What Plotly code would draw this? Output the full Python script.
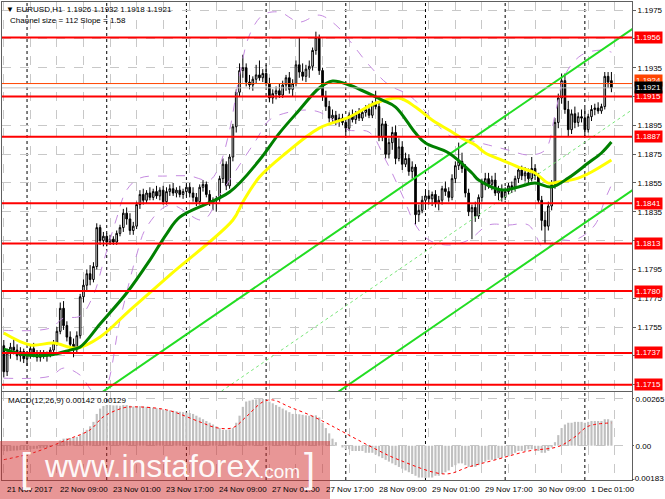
import plotly.graph_objects as go

W, H = 665, 499

# ---------------- data ----------------
x_tick_idx = [0, 16, 32, 48, 64, 80, 96, 112, 128, 144, 160, 176]
x_tick_text = ["21 Nov 2017", "22 Nov 09:00", "23 Nov 01:00", "23 Nov 17:00", "24 Nov 09:00",
               "27 Nov 01:00", "27 Nov 17:00", "28 Nov 09:00", "29 Nov 01:00", "29 Nov 17:00",
               "30 Nov 09:00", "1 Dec 01:00"]
day_start_idx = [7, 31, 55, 79, 103, 127, 151, 175]

open_ = [1.1742,1.1724,1.1737,1.1741,1.1739,1.1735,1.1738,1.1733,1.1736,1.1740,
         1.1736,1.1734,1.1737,1.1735,1.1736,1.1739,1.1744,1.1752,1.1768,1.1756,
         1.1748,1.1743,1.1740,1.1749,1.1776,1.1784,1.1792,1.1788,1.1797,1.1824,
         1.1815,1.1818,1.1814,1.1816,1.1814,1.1820,1.1824,1.1834,1.1830,1.1822,
         1.1825,1.1840,1.1847,1.1843,1.1848,1.1845,1.1849,1.1846,1.1850,1.1842,
         1.1849,1.1851,1.1848,1.1850,1.1847,1.1849,1.1852,1.1848,1.1845,1.1842,
         1.1852,1.1854,1.1847,1.1841,1.1843,1.1844,1.1858,1.1868,1.1853,1.1873,
         1.1894,1.1918,1.1933,1.1935,1.1925,1.1923,1.1927,1.1930,1.1928,1.1931,
         1.1924,1.1914,1.1917,1.1919,1.1916,1.1923,1.1928,1.1920,1.1924,1.1937,
         1.1932,1.1929,1.1934,1.1936,1.1947,1.1956,1.1933,1.1915,1.1908,1.1900,
         1.1902,1.1898,1.1900,1.1897,1.1893,1.1902,1.1899,1.1903,1.1900,1.1904,
         1.1906,1.1902,1.1910,1.1908,1.1887,1.1896,1.1875,1.1883,1.1890,1.1872,
         1.1880,1.1868,1.1872,1.1863,1.1866,1.1833,1.1836,1.1843,1.1846,1.1844,
         1.1847,1.1841,1.1843,1.1851,1.1849,1.1845,1.1858,1.1867,1.1870,1.1865,
         1.1848,1.1835,1.1838,1.1832,1.1845,1.1855,1.1858,1.1854,1.1857,1.1848,
         1.1850,1.1845,1.1849,1.1853,1.1851,1.1858,1.1864,1.1860,1.1862,1.1858,
         1.1865,1.1860,1.1843,1.1829,1.1825,1.1839,1.1854,1.1897,1.1914,1.1926,
         1.1906,1.1892,1.1903,1.1897,1.1901,1.1900,1.1892,1.1901,1.1906,1.1907,
         1.1905,1.1908,1.1929,1.1926]
high_ = [1.1746,1.1740,1.1744,1.1747,1.1743,1.1741,1.1740,1.1738,1.1742,1.1744,
         1.1739,1.1739,1.1739,1.1738,1.1741,1.1746,1.1755,1.1772,1.1773,1.1759,
         1.1752,1.1747,1.1752,1.1778,1.1788,1.1795,1.1798,1.1800,1.1827,1.1826,
         1.1821,1.1820,1.1819,1.1818,1.1822,1.1826,1.1837,1.1838,1.1834,1.1828,
         1.1842,1.1850,1.1851,1.1850,1.1852,1.1851,1.1853,1.1852,1.1853,1.1852,
         1.1854,1.1855,1.1852,1.1853,1.1851,1.1854,1.1855,1.1852,1.1848,1.1854,
         1.1857,1.1856,1.1850,1.1845,1.1846,1.1860,1.1872,1.1870,1.1875,1.1896,
         1.1920,1.1938,1.1944,1.1938,1.1930,1.1929,1.1937,1.1940,1.1934,1.1937,
         1.1928,1.1920,1.1922,1.1924,1.1926,1.1930,1.1932,1.1927,1.1940,1.1956,
         1.1938,1.1937,1.1940,1.1949,1.1960,1.1958,1.1935,1.1919,1.1912,1.1906,
         1.1905,1.1903,1.1903,1.1900,1.1904,1.1906,1.1905,1.1907,1.1906,1.1909,
         1.1910,1.1912,1.1919,1.1911,1.1900,1.1898,1.1886,1.1894,1.1895,1.1886,
         1.1884,1.1876,1.1875,1.1870,1.1868,1.1840,1.1846,1.1849,1.1850,1.1849,
         1.1850,1.1846,1.1853,1.1856,1.1852,1.1861,1.1870,1.1883,1.1876,1.1868,
         1.1851,1.1840,1.1842,1.1847,1.1858,1.1862,1.1862,1.1860,1.1862,1.1853,
         1.1854,1.1852,1.1855,1.1856,1.1860,1.1866,1.1867,1.1866,1.1865,1.1873,
         1.1868,1.1862,1.1846,1.1835,1.1842,1.1857,1.1900,1.1917,1.1931,1.1931,
         1.1912,1.1906,1.1908,1.1904,1.1906,1.1907,1.1903,1.1909,1.1910,1.1911,
         1.1910,1.1932,1.1932,1.1932]
low_ = [1.1720,1.1721,1.1733,1.1736,1.1732,1.1731,1.1730,1.1728,1.1733,1.1734,
        1.1731,1.1731,1.1733,1.1731,1.1734,1.1737,1.1742,1.1750,1.1753,1.1745,
        1.1740,1.1734,1.1737,1.1747,1.1772,1.1780,1.1784,1.1786,1.1795,1.1812,
        1.1811,1.1811,1.1812,1.1812,1.1812,1.1818,1.1821,1.1826,1.1819,1.1819,
        1.1823,1.1837,1.1840,1.1841,1.1843,1.1843,1.1844,1.1843,1.1840,1.1840,
        1.1846,1.1846,1.1845,1.1845,1.1844,1.1846,1.1845,1.1842,1.1839,1.1840,
        1.1849,1.1845,1.1839,1.1836,1.1835,1.1842,1.1855,1.1850,1.1851,1.1870,
        1.1890,1.1915,1.1928,1.1922,1.1920,1.1919,1.1924,1.1926,1.1925,1.1922,
        1.1911,1.1910,1.1913,1.1914,1.1914,1.1919,1.1917,1.1915,1.1922,1.1928,
        1.1926,1.1925,1.1928,1.1933,1.1944,1.1930,1.1912,1.1905,1.1897,1.1896,
        1.1895,1.1894,1.1895,1.1888,1.1891,1.1897,1.1896,1.1898,1.1898,1.1901,
        1.1900,1.1900,1.1906,1.1884,1.1884,1.1872,1.1872,1.1878,1.1868,1.1870,
        1.1864,1.1866,1.1860,1.1858,1.1826,1.1828,1.1834,1.1838,1.1840,1.1839,
        1.1838,1.1836,1.1840,1.1846,1.1842,1.1843,1.1855,1.1864,1.1862,1.1845,
        1.1832,1.1816,1.1828,1.1830,1.1842,1.1850,1.1851,1.1850,1.1846,1.1843,
        1.1842,1.1843,1.1847,1.1848,1.1849,1.1855,1.1857,1.1856,1.1855,1.1856,
        1.1857,1.1841,1.1822,1.1813,1.1822,1.1836,1.1851,1.1893,1.1910,1.1903,
        1.1887,1.1889,1.1893,1.1894,1.1897,1.1887,1.1890,1.1898,1.1902,1.1903,
        1.1903,1.1906,1.1921,1.1918]
close_ = [1.1724,1.1737,1.1741,1.1739,1.1735,1.1738,1.1733,1.1736,1.1740,1.1736,
          1.1734,1.1737,1.1735,1.1736,1.1739,1.1744,1.1752,1.1768,1.1756,1.1748,
          1.1743,1.1740,1.1749,1.1776,1.1784,1.1792,1.1788,1.1797,1.1824,1.1815,
          1.1818,1.1814,1.1816,1.1814,1.1820,1.1824,1.1834,1.1830,1.1822,1.1825,
          1.1840,1.1847,1.1843,1.1848,1.1845,1.1849,1.1846,1.1850,1.1842,1.1849,
          1.1851,1.1848,1.1850,1.1847,1.1849,1.1852,1.1848,1.1845,1.1842,1.1852,
          1.1854,1.1847,1.1841,1.1843,1.1844,1.1858,1.1868,1.1853,1.1873,1.1894,
          1.1918,1.1933,1.1935,1.1925,1.1923,1.1927,1.1930,1.1928,1.1931,1.1924,
          1.1914,1.1917,1.1919,1.1916,1.1923,1.1928,1.1920,1.1924,1.1937,1.1932,
          1.1929,1.1934,1.1936,1.1947,1.1956,1.1933,1.1915,1.1908,1.1900,1.1902,
          1.1898,1.1900,1.1897,1.1893,1.1902,1.1899,1.1903,1.1900,1.1904,1.1906,
          1.1902,1.1910,1.1908,1.1887,1.1896,1.1875,1.1883,1.1890,1.1872,1.1880,
          1.1868,1.1872,1.1863,1.1866,1.1833,1.1836,1.1843,1.1846,1.1844,1.1847,
          1.1841,1.1843,1.1851,1.1849,1.1845,1.1858,1.1867,1.1870,1.1865,1.1848,
          1.1835,1.1838,1.1832,1.1845,1.1855,1.1858,1.1854,1.1857,1.1848,1.1850,
          1.1845,1.1849,1.1853,1.1851,1.1858,1.1864,1.1860,1.1862,1.1858,1.1865,
          1.1860,1.1843,1.1829,1.1825,1.1839,1.1854,1.1897,1.1914,1.1926,1.1906,
          1.1892,1.1903,1.1897,1.1901,1.1900,1.1892,1.1901,1.1906,1.1907,1.1905,
          1.1908,1.1929,1.1925,1.1921]

# moving averages (bar index, price)
ma_green_idx = [0, 7, 14, 20, 23, 29, 37, 44, 49, 53, 68, 77, 83, 89, 95, 99, 104, 114, 118,
                124, 127, 134, 141, 143, 150, 155, 160, 165, 170, 176, 180, 183]
ma_green_val = [1.17397, 1.17356, 1.17356, 1.17390, 1.17411, 1.17571, 1.17786, 1.18015, 1.18195,
                1.18313, 1.18487, 1.18709, 1.18896, 1.19056, 1.19209, 1.19257, 1.19230, 1.19125,
                1.19077, 1.18896, 1.18827, 1.18758, 1.18619, 1.18570, 1.18501, 1.18522, 1.18549,
                1.18522, 1.18584, 1.18688, 1.18758, 1.18834]
ma_yellow_idx = [0, 8, 15, 22, 29, 38, 50, 69, 72, 77, 85, 95, 104, 112, 119, 124, 129, 134, 139,
                 142, 145, 150, 155, 160, 164, 167, 173, 177, 183]
ma_yellow_val = [1.17508, 1.17425, 1.17439, 1.17404, 1.17481, 1.17668, 1.17911, 1.18293, 1.18418,
                 1.18591, 1.18758, 1.18931, 1.19007, 1.19105, 1.19139, 1.19077, 1.18987, 1.18917,
                 1.18848, 1.18813, 1.18758, 1.18709, 1.18660, 1.18619, 1.18549, 1.18556, 1.18584,
                 1.18626, 1.18709]

band_up_idx = [0, 14, 18, 23, 27, 30, 34, 37, 41, 49, 56, 62, 65, 68, 71, 74, 78, 83, 89, 95,
               100, 104, 110, 116, 122, 128, 134, 140, 146, 152, 158, 163, 166, 169, 174, 180, 183]
band_up_val = [1.17527, 1.17543, 1.17612, 1.17626, 1.17772, 1.18001, 1.18306, 1.18501, 1.18584,
               1.18598, 1.18598, 1.18570, 1.18674, 1.18917, 1.19299, 1.19577, 1.19715, 1.19736,
               1.19667, 1.19715, 1.19646, 1.19542, 1.19368, 1.19230, 1.19160, 1.19021, 1.18882,
               1.18848, 1.18813, 1.18778, 1.18744, 1.18778, 1.19021, 1.19299, 1.19438, 1.19472,
               1.19458]
band_dn_idx = [0, 14, 18, 23, 27, 30, 35, 40, 43, 50, 60, 65, 70, 76, 80, 86, 91, 95,
               100, 104, 110, 115, 120, 124, 128, 134, 140, 146, 152, 158, 163, 166, 172, 178,
               181, 183]
band_dn_val = [1.17195, 1.17209, 1.17265, 1.17216, 1.17099, 1.17099, 1.17598, 1.18050, 1.18244,
               1.18397, 1.18293, 1.18466, 1.18640, 1.18848, 1.18987, 1.19042, 1.19056, 1.19042,
               1.18973, 1.18917, 1.18903, 1.18709, 1.18466, 1.18258, 1.18154, 1.18119, 1.18154,
               1.18258, 1.18258, 1.18258, 1.18084, 1.18154, 1.18154, 1.18258, 1.18431, 1.18535]

# regression channel (Channel size = 112, Slope = 1.58)
chan_idx = [0, 190]
chan_upper = [1.1663, 1.1963]
chan_mid = [1.1607, 1.1907]
chan_lower = [1.1551, 1.1851]

levels = [1.1956, 1.1915, 1.1887, 1.1841, 1.1813, 1.1780, 1.1737, 1.1715]
ask_line = 1.1924
bid_line = 1.1921
price_ticks = [1.1975, 1.1955, 1.1935, 1.1915, 1.1895, 1.1875, 1.1855, 1.1835, 1.1815,
               1.1795, 1.1775, 1.1755, 1.1735, 1.1715]
price_tick_text = ["1.1975", "", "1.1935", "", "1.1895", "1.1875", "1.1855", "1.1835", "",
                   "1.1795", "1.1775", "1.1755", "", ""]

macd_hist = [-0.00030,-0.00032,-0.00030,-0.00028,-0.00027,-0.00025,-0.00024,-0.00022,-0.00020,-0.00018,
             -0.00017,-0.00015,-0.00012,-0.00010,-0.00006,0.00000,0.00010,0.00030,0.00040,0.00042,
             0.00044,0.00046,0.00050,0.00060,0.00075,0.00090,0.00110,0.00135,0.00180,0.00210,
             0.00225,0.00230,0.00230,0.00228,0.00228,0.00226,0.00230,0.00230,0.00226,0.00222,
             0.00222,0.00224,0.00222,0.00220,0.00218,0.00215,0.00212,0.00210,0.00205,0.00202,
             0.00200,0.00198,0.00195,0.00192,0.00190,0.00188,0.00185,0.00180,0.00170,0.00160,
             0.00150,0.00140,0.00130,0.00120,0.00110,0.00100,0.00090,0.00090,0.00092,0.00100,
             0.00130,0.00170,0.00220,0.00250,0.00255,0.00260,0.00262,0.00265,0.00265,0.00260,
             0.00250,0.00240,0.00230,0.00220,0.00210,0.00200,0.00190,0.00180,0.00180,0.00178,
             0.00175,0.00172,0.00170,0.00170,0.00172,0.00160,0.00130,0.00100,0.00070,0.00040,
             0.00020,0.00000,-0.00010,-0.00020,-0.00020,-0.00030,-0.00030,-0.00030,-0.00030,-0.00040,
             -0.00040,-0.00040,-0.00050,-0.00060,-0.00070,-0.00080,-0.00090,-0.00100,-0.00110,-0.00120,
             -0.00130,-0.00140,-0.00150,-0.00160,-0.00170,-0.00180,-0.00180,-0.00183,-0.00180,-0.00180,
             -0.00170,-0.00170,-0.00160,-0.00150,-0.00140,-0.00120,-0.00110,-0.00100,-0.00100,-0.00110,
             -0.00120,-0.00120,-0.00120,-0.00110,-0.00100,-0.00090,-0.00080,-0.00080,-0.00080,-0.00070,
             -0.00070,-0.00060,-0.00060,-0.00050,-0.00040,-0.00030,-0.00030,-0.00030,-0.00020,-0.00020,
             -0.00020,-0.00030,-0.00040,-0.00040,-0.00030,-0.00010,0.00020,0.00060,0.00100,0.00120,
             0.00130,0.00130,0.00135,0.00135,0.00135,0.00130,0.00135,0.00140,0.00140,0.00140,
             0.00140,0.00150,0.00150,0.00142]
macd_sig_idx = [0, 9, 19, 26, 30, 36, 39, 49, 59, 64, 69, 73, 78, 81, 86, 92, 97, 101, 110, 119,
                133, 140, 148, 158, 167, 172, 176, 183]
macd_sig_val = [-0.00079, -0.00039, 0.00034, 0.00090, 0.00164, 0.00214, 0.00220, 0.00203, 0.00135,
                0.00102, 0.00102, 0.00164, 0.00248, 0.00259, 0.00220, 0.00175, 0.00130, 0.00090,
                0.00000, -0.00080, -0.00160, -0.00120, -0.00080, -0.00030, -0.00005, 0.00050,
                0.00110, 0.00129]
macd_ticks = [0.00265, 0.0]
macd_tick_text = ["0.00265", "0.00"]
macd_min_label = -0.00183

# ---------------- figure ----------------
def py(px):
    return 1 - px / H

X0, X1 = 2 / W, 632 / W
main_dom = [py(391), py(2)]
macd_dom = [py(480), py(392)]
xr = [-0.54, 189.2]
FONT = "Liberation Sans, Arial, sans-serif"

fig = go.Figure()

fig.add_trace(go.Scatter(x=band_up_idx, y=band_up_val, mode="lines", line=dict(color="#c58be0", width=1, dash="dash", shape="spline"), xaxis="x", yaxis="y", hoverinfo="skip"))
fig.add_trace(go.Scatter(x=band_dn_idx, y=band_dn_val, mode="lines", line=dict(color="#c58be0", width=1, dash="dash", shape="spline"), xaxis="x", yaxis="y", hoverinfo="skip"))
fig.add_trace(go.Scatter(x=chan_idx, y=chan_mid, mode="lines", line=dict(color="#7ae67a", width=1, dash="dot"), xaxis="x", yaxis="y", hoverinfo="skip"))
fig.add_trace(go.Scatter(x=chan_idx, y=chan_upper, mode="lines", line=dict(color="#22dd22", width=2), xaxis="x", yaxis="y", hoverinfo="skip"))
fig.add_trace(go.Scatter(x=chan_idx, y=chan_lower, mode="lines", line=dict(color="#22dd22", width=2), xaxis="x", yaxis="y", hoverinfo="skip"))
fig.add_trace(go.Scatter(x=ma_yellow_idx, y=ma_yellow_val, mode="lines", line=dict(color="#ffff00", width=3, shape="spline"), xaxis="x", yaxis="y", hoverinfo="skip"))
fig.add_trace(go.Scatter(x=ma_green_idx, y=ma_green_val, mode="lines", line=dict(color="#008000", width=3, shape="spline"), xaxis="x", yaxis="y", hoverinfo="skip"))
fig.add_trace(go.Candlestick(x=list(range(len(close_))), open=open_, high=high_, low=low_, close=close_,
                             increasing=dict(line=dict(color="black", width=1), fillcolor="white"),
                             decreasing=dict(line=dict(color="black", width=1), fillcolor="black"),
                             whiskerwidth=0, xaxis="x", yaxis="y", hoverinfo="skip"))

fig.add_trace(go.Bar(x=list(range(len(macd_hist))), y=macd_hist, marker=dict(color="#c0c0c0", line=dict(width=0)),
                     xaxis="x2", yaxis="y2", hoverinfo="skip"))
fig.add_trace(go.Scatter(x=macd_sig_idx, y=macd_sig_val, mode="lines", line=dict(color="#ff0000", width=1, dash="dot", shape="spline"),
                         xaxis="x2", yaxis="y2", hoverinfo="skip"))

shapes = []
for d in day_start_idx:
    shapes.append(dict(type="line", xref="x", yref="paper", x0=d, x1=d, y0=macd_dom[0], y1=main_dom[1],
                       line=dict(color="black", width=1, dash="dot"), layer="below"))
for lv in levels:
    shapes.append(dict(type="line", xref="paper", yref="y", x0=X0, x1=X1, y0=lv, y1=lv,
                       line=dict(color="#ff0000", width=2), layer="above"))
shapes.append(dict(type="line", xref="paper", yref="y", x0=X0, x1=X1, y0=ask_line, y1=ask_line,
                   line=dict(color="#ff4500", width=1), layer="above"))
shapes.append(dict(type="line", xref="paper", yref="y", x0=X0, x1=X1, y0=bid_line, y1=bid_line,
                   line=dict(color="#c0c0c0", width=1), layer="above"))
# watermark box
shapes.append(dict(type="rect", xref="paper", yref="paper", x0=0, x1=330 / W, y0=0, y1=py(441),
                   fillcolor="rgba(209,45,45,0.5)", line=dict(width=0), layer="above"))

ann = []
for lv in levels:
    ann.append(dict(xref="paper", yref="y", x=634 / W, y=lv, xanchor="left", yanchor="middle",
                    text=f"{lv:.4f}", showarrow=False, bgcolor="#ff0000", borderpad=1,
                    font=dict(color="white", size=8, family=FONT)))
ann.append(dict(xref="paper", yref="y", x=634 / W, y=ask_line, xanchor="left", yanchor="bottom", yshift=-3,
                text=f"{ask_line:.4f}", showarrow=False, bgcolor="#ff4500", borderpad=1,
                font=dict(color="white", size=8, family=FONT)))
ann.append(dict(xref="paper", yref="y", x=634 / W, y=bid_line, xanchor="left", yanchor="middle",
                text=f"{bid_line:.4f}", showarrow=False, bgcolor="black", borderpad=1,
                font=dict(color="white", size=8, family=FONT)))
ann.append(dict(xref="paper", yref="y2", x=630 / W, y=macd_min_label, xanchor="left", yanchor="middle",
                text=f"{macd_min_label:.5f}", showarrow=False,
                font=dict(color="black", size=8, family=FONT)))
for ti, tt in zip(x_tick_idx, x_tick_text):
    ann.append(dict(xref="x2", yref="paper", x=ti, y=py(489), xanchor="left", yanchor="middle", xshift=1,
                    text=tt, showarrow=False, font=dict(color="black", size=8, family=FONT)))
ann.append(dict(xref="paper", yref="paper", x=4 / W, y=py(9), xanchor="left", yanchor="middle",
                text="\u25bc EURUSD,H1  1.1926 1.1932 1.1918 1.1921", showarrow=False,
                font=dict(color="black", size=8, family=FONT)))
ann.append(dict(xref="paper", yref="paper", x=8 / W, y=py(20), xanchor="left", yanchor="middle",
                text="Channel size = 112 Slope = 1.58", showarrow=False,
                font=dict(color="black", size=8, family=FONT)))
ann.append(dict(xref="paper", yref="paper", x=6 / W, y=py(400), xanchor="left", yanchor="middle",
                text="MACD(12,26,9) 0.00142 0.00129", showarrow=False,
                font=dict(color="black", size=8, family=FONT)))
# watermark text
WM = "rgba(255,255,255,0.95)"
ann.append(dict(xref="paper", yref="paper", x=18 / W, y=py(468), xanchor="left", yanchor="middle",
                text="[", showarrow=False, font=dict(color=WM, size=40, family=FONT)))
ann.append(dict(xref="paper", yref="paper", x=42 / W, y=py(466), xanchor="left", yanchor="middle",
                text="www.instaforex", showarrow=False, font=dict(color=WM, size=32, family=FONT)))
ann.append(dict(xref="paper", yref="paper", x=257 / W, y=py(471), xanchor="left", yanchor="middle",
                text=".com", showarrow=False, font=dict(color=WM, size=19, family=FONT)))
ann.append(dict(xref="paper", yref="paper", x=302 / W, y=py(468), xanchor="left", yanchor="middle",
                text="]", showarrow=False, font=dict(color=WM, size=40, family=FONT)))

axis_common = dict(showline=True, linecolor="#606060", linewidth=1, mirror=True, zeroline=False)

fig.update_layout(
    width=W, height=H, autosize=False,
    margin=dict(l=0, r=0, t=0, b=0),
    paper_bgcolor="white", plot_bgcolor="white",
    showlegend=False, bargap=0.35,
    font=dict(family=FONT, size=8, color="black"),
    xaxis=dict(domain=[X0, X1], range=xr, anchor="y", tick0=0, dtick=8, showticklabels=False,
               showgrid=True, gridcolor="#c8c8c8", griddash="dash", gridwidth=1, ticks="",
               rangeslider=dict(visible=False), **axis_common),
    yaxis=dict(domain=main_dom, range=[1.17106, 1.19806], side="right", anchor="x",
               tickvals=price_ticks, ticktext=price_tick_text, automargin=False,
               showgrid=True, gridcolor="#c8c8c8", griddash="dash", gridwidth=1,
               ticks="outside", ticklen=3, tickcolor="#606060", tickfont=dict(size=8, family=FONT),
               **axis_common),
    xaxis2=dict(domain=[X0, X1], range=xr, anchor="y2", matches="x", tick0=0, dtick=8,
                showticklabels=False, showgrid=True, gridcolor="#c8c8c8", griddash="dash",
                ticks="", **axis_common),
    yaxis2=dict(domain=macd_dom, range=[-0.00194, 0.00304], side="right", anchor="x2",
                tickvals=macd_ticks, ticktext=macd_tick_text, automargin=False,
                showgrid=True, gridcolor="#c8c8c8", griddash="dash",
                ticks="outside", ticklen=1, tickcolor="#606060", tickfont=dict(size=8, family=FONT),
                **axis_common),
    shapes=shapes, annotations=ann,
)

fig.write_html("out.html", config={"displayModeBar": False},
               post_script="document.body.style.margin='0';document.body.style.overflow='hidden';")
